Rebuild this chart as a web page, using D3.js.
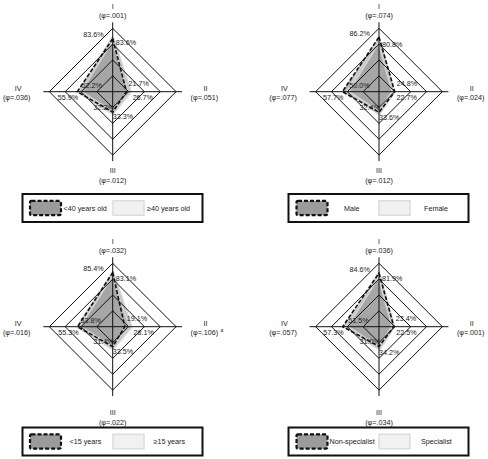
<!DOCTYPE html>
<html><head><meta charset="utf-8">
<script src="https://cdn.jsdelivr.net/npm/d3@7"></script>
<style>
html,body{margin:0;padding:0;background:#fff;}
svg{display:block;font-family:"Liberation Sans",Arial,sans-serif;}
</style></head>
<body>
<svg id="chart" width="488" height="459"></svg>
<script>
// ---- data ----
const axisNames = ["I", "II", "III", "IV"];
const ringTicks = [25, 50, 75, 100];

const phiAge = ["(φ=.001)", "(φ=.051)", "(φ=.012)", "(φ=.036)"];
const phiSex = ["(φ=.074)", "(φ=.024)", "(φ=.012)", "(φ=.077)"];
const phiExp = ["(φ=.032)", "(φ=.106)", "(φ=.022)", "(φ=.016)"];
const phiSpec = ["(φ=.036)", "(φ=.001)", "(φ=.034)", "(φ=.057)"];
const phiNoteExp = ["", "a", "", ""];

const seriesAge = ["<40 years old", "≥40 years old"];
const ageDark = [83.6, 21.7, 32.2, 55.9];
const ageLight = [83.6, 26.7, 33.3, 52.2];

const seriesSex = ["Male", "Female"];
const sexDark = [86.2, 24.8, 32.4, 57.7];
const sexLight = [80.8, 22.7, 33.6, 50.0];

const seriesExp = ["<15 years", "≥15 years"];
const expDark = [85.4, 19.1, 31.4, 55.3];
const expLight = [83.1, 28.1, 33.5, 53.8];

const seriesSpec = ["Non-specialist", "Specialist"];
const specDark = [84.6, 23.4, 31.0, 57.3];
const specLight = [81.9, 22.5, 34.2, 51.5];

// ---- layout (positions / styles only) ----
const panels = [
  {cx: 112.7, cy: 91.7, phi: phiAge, notes: null, names: seriesAge, dark: ageDark, light: ageLight,
   bottomDy: 79, legend: {x: 22.5, y: 194, w: 180, h: 28, s1: 30, t1: 63.5, s2: 113, t2: 147}},
  {cx: 379, cy: 91.7, phi: phiSex, notes: null, names: seriesSex, dark: sexDark, light: sexLight,
   bottomDy: 79, legend: {x: 288.5, y: 194, w: 180, h: 28, s1: 296.5, t1: 344, s2: 379, t2: 424}},
  {cx: 112.7, cy: 326.7, phi: phiExp, notes: phiNoteExp, names: seriesExp, dark: expDark, light: expLight,
   bottomDy: 86, legend: {x: 22.5, y: 427.5, w: 180, h: 28, s1: 30, t1: 69.5, s2: 113, t2: 153.5}},
  {cx: 379, cy: 326.7, phi: phiSpec, notes: null, names: seriesSpec, dark: specDark, light: specLight,
   bottomDy: 86, legend: {x: 288.5, y: 427.5, w: 180, h: 28, s1: 296.5, t1: 329.5, s2: 379, t2: 421}}
];

const R = 63.4;
const FS = 7.2;
const TXT = "#222";
const DARK_FILL = "#a6a6a6";
const HALO = "#d4d4d4";

const svg = d3.select("#chart");
const r = d3.scaleLinear().domain([0, 100]).range([0, R]);
// angle for each axis: I top, II right, III bottom, IV left
const ang = d3.scaleOrdinal().domain(axisNames).range([-Math.PI / 2, 0, Math.PI / 2, Math.PI]);

function pt(p, i, v) {
  const a = ang(axisNames[i]);
  return [p.cx + r(v) * Math.cos(a), p.cy + r(v) * Math.sin(a)];
}
const line = d3.line().curve(d3.curveLinearClosed);

panels.forEach(p => {
  const g = svg.append("g");

  const darkPts = p.dark.map((v, i) => pt(p, i, v));
  const lightPts = p.light.map((v, i) => pt(p, i, v));

  // series fills
  g.append("path").attr("d", line(darkPts))
    .attr("fill", DARK_FILL).attr("stroke", "none");
  g.append("path").attr("d", line(lightPts))
    .attr("fill", DARK_FILL).attr("fill-opacity", 0.85)
    .attr("stroke", HALO).attr("stroke-width", 4).attr("stroke-linejoin", "round");
  g.append("path").attr("d", line(lightPts))
    .attr("fill", "none").attr("stroke", "#c2c2c2").attr("stroke-width", 1);

  // grid rings
  ringTicks.forEach(t => {
    const ring = axisNames.map((n, i) => pt(p, i, t));
    g.append("path").attr("d", line(ring))
      .attr("fill", "none").attr("stroke", "#111").attr("stroke-width", 1);
  });
  // spokes
  axisNames.forEach((n, i) => {
    const e = pt(p, i, 100 + 6 / R * 100);
    g.append("line").attr("x1", p.cx).attr("y1", p.cy).attr("x2", e[0]).attr("y2", e[1])
      .attr("stroke", "#111").attr("stroke-width", 1);
  });

  // dashed outline of dark series
  g.append("path").attr("d", line(darkPts))
    .attr("fill", "none").attr("stroke", "#111").attr("stroke-width", 1.6)
    .attr("stroke-dasharray", "4,2");

  // axis titles
  const titlePos = [
    [p.cx, p.cy - 85, p.cx, p.cy - 76],
    [p.cx + 92.7, p.cy - 3.5, p.cx + 91.7, p.cy + 6],
    [p.cx, p.cy + p.bottomDy, p.cx, p.cy + p.bottomDy + 9.5],
    [p.cx - 94.5, p.cy - 3.5, p.cx - 96, p.cy + 6]
  ];
  axisNames.forEach((n, i) => {
    const tp = titlePos[i];
    g.append("text").attr("x", tp[0]).attr("y", tp[1]).attr("dy", "0.35em")
      .attr("text-anchor", "middle").attr("font-size", FS).attr("fill", TXT).text(n);
    g.append("text").attr("x", tp[2]).attr("y", tp[3]).attr("dy", "0.35em")
      .attr("text-anchor", "middle").attr("font-size", FS).attr("fill", TXT).text(p.phi[i]);
    if (p.notes && p.notes[i]) {
      g.append("text").attr("x", tp[2] + 16).attr("y", tp[3] - 2.5).attr("dy", "0.35em")
        .attr("text-anchor", "start").attr("font-size", 5).attr("fill", TXT).text(p.notes[i]);
    }
  });

  // value labels
  const fmt = v => v.toFixed(1) + "%";
  const lab = (x, y, anchor, txt) => g.append("text").attr("x", x).attr("y", y).attr("dy", "0.35em")
    .attr("text-anchor", anchor).attr("font-size", FS).attr("fill", TXT).text(txt);
  // I
  lab(p.cx - 9, p.cy - r(p.dark[0]) - 4, "end", fmt(p.dark[0]));
  lab(p.cx + 3, p.cy - r(p.light[0]) + 4, "start", fmt(p.light[0]));
  // II
  lab(p.cx + r(p.dark[1]) + 2, p.cy - 8, "start", fmt(p.dark[1]));
  lab(p.cx + r(p.light[1]) + 3, p.cy + 6, "start", fmt(p.light[1]));
  // III
  lab(p.cx + 1, p.cy + r(p.dark[2]) - 5, "end", fmt(p.dark[2]));
  lab(p.cx, p.cy + r(p.light[2]) + 4, "start", fmt(p.light[2]));
  // IV
  lab(p.cx - r(p.dark[3]) + 1, p.cy + 6, "end", fmt(p.dark[3]));
  lab(p.cx - r(p.light[3]) + 2, p.cy - 6, "start", fmt(p.light[3]));

  // legend
  const L = p.legend;
  g.append("rect").attr("x", L.x).attr("y", L.y).attr("width", L.w).attr("height", L.h)
    .attr("fill", "#fff").attr("stroke", "#111").attr("stroke-width", 2);
  const sy = L.y + 6.8, sh = 14.4, sw = 31;
  g.append("rect").attr("x", L.s1).attr("y", sy).attr("width", sw).attr("height", sh)
    .attr("fill", "#9b9b9b").attr("stroke", "#111").attr("stroke-width", 2.2)
    .attr("stroke-dasharray", "4,2").attr("rx", 1.5);
  g.append("rect").attr("x", L.s2).attr("y", sy).attr("width", sw).attr("height", sh)
    .attr("fill", "#f1f1f1").attr("stroke", "#dcdcdc").attr("stroke-width", 1.5);
  g.append("text").attr("x", L.t1).attr("y", L.y + L.h / 2).attr("dy", "0.35em")
    .attr("font-size", FS).attr("fill", TXT).text(p.names[0]);
  g.append("text").attr("x", L.t2).attr("y", L.y + L.h / 2).attr("dy", "0.35em")
    .attr("font-size", FS).attr("fill", TXT).text(p.names[1]);
});
</script>
</body></html>
